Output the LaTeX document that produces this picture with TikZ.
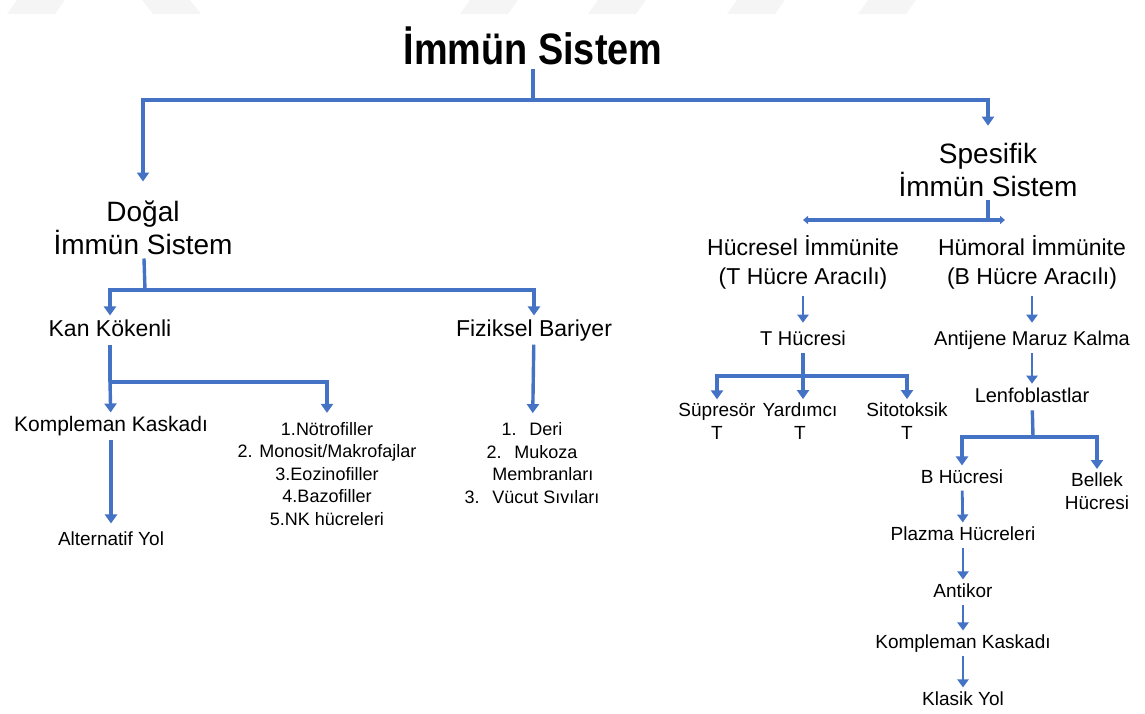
\documentclass[tikz,border=0pt]{standalone}
\usepackage{fontspec}
\setmainfont{Liberation Sans}
\newfontfamily\titlefont[FakeStretch=0.86]{Liberation Sans}
\usetikzlibrary{arrows.meta}
\definecolor{ablue}{RGB}{68,114,196}
\tikzset{
  line/.style={draw=ablue,line width=3.4pt},
  arr/.style={line,-{Triangle[width=12pt,length=9pt]}},
  sarr/.style={draw=ablue,line width=2.8pt,-{Triangle[width=11pt,length=8pt]}},
  capline/.style={line,{Triangle[width=8pt,length=5pt]}-{Triangle[width=8pt,length=5pt]}},
  big/.style={align=center,font=\fontsize{28}{33}\selectfont},
  mid/.style={align=center,font=\fontsize{23}{29}\selectfont},
  txt/.style={align=center,font=\fontsize{20}{24}\selectfont},
  sml/.style={align=center,font=\fontsize{19}{23}\selectfont},
  lst/.style={align=center,font=\fontsize{18}{22.5}\selectfont},
  midline/.style={font=\fontsize{23}{29}\selectfont,text height=17pt,text depth=5pt},
  kline/.style={font=\fontsize{21}{25}\selectfont,text height=15.5pt,text depth=4.5pt},
  txtline/.style={font=\fontsize{20}{24}\selectfont,text height=15pt,text depth=4.5pt},
  smlline/.style={font=\fontsize{19}{23}\selectfont,text height=14pt,text depth=4pt},
  wmark/.style={fill=gray!8,draw=none}
}
\begin{document}
\begin{tikzpicture}[x=1pt,y=-1pt]
\useasboundingbox (0,0) rectangle (1145,713);
% faint marks at the top edge
\foreach \a in {7,460,588,727,858}
  \path[wmark] (\a+10,0) -- (\a+58,0) -- (\a+48,14) -- (\a,14) -- cycle;
\path[wmark] (142,0) -- (190,0) -- (201,14) -- (153,14) -- cycle;

% texts
\node[font=\titlefont\fontsize{44}{50}\selectfont\bfseries] (immun) at (533,46) {İmmün Sistem};
\node[big] (dogal) at (143,228) {Doğal\\İmmün Sistem};
\node[big] (spesifik) at (988,170) {Spesifik\\İmmün Sistem};

\node[midline] (kan) at (110,330) {Kan Kökenli};
\node[midline] (fiziksel) at (534,330) {Fiziksel Bariyer};
\node[kline] (komp1) at (111,426) {Kompleman Kaskadı};
\node[smlline] (alternatif) at (111,540) {Alternatif Yol};
\node[lst] (hucreler) at (327,474) {1.Nötrofiller\\2. Monosit/Makrofajlar\\3.Eozinofiller\\4.Bazofiller\\5.NK hücreleri};
\node[lst] (bariyer) at (532,463) {1.\hspace{0.7em}Deri\\2.\hspace{0.7em}Mukoza\\\hspace{1.2em}Membranları\\3.\hspace{0.7em}Vücut Sıvıları};

\node[mid] (hucresel) at (803,262) {Hücresel İmmünite\\(T Hücre Aracılı)};
\node[mid] (humoral) at (1032,262) {Hümoral İmmünite\\(B Hücre Aracılı)};
\node[txtline] (thucre) at (803,340) {T Hücresi};
\node[txtline] (antijen) at (1032,340) {Antijene Maruz Kalma};
\node[txtline] (lenfo) at (1032,397) {Lenfoblastlar};
\node[sml] (supresor) at (717,421) {Süpresör\\T};
\node[sml] (yardimci) at (800,421) {Yardımcı\\T};
\node[sml] (sitotoksik) at (907,421) {Sitotoksik\\T};
\node[smlline] (bhucre) at (962,478) {B Hücresi};
\node[sml] (bellek) at (1097,491) {Bellek\\Hücresi};
\node[smlline] (plazma) at (963,535) {Plazma Hücreleri};
\node[smlline] (antikor) at (963,592) {Antikor};
\node[smlline] (komp2) at (963,643) {Kompleman Kaskadı};
\node[smlline] (klasik) at (963,700) {Klasik Yol};

% connectors
\coordinate (top) at (533,100);
\draw[line] (immun) -- (top);
\draw[arr,shorten >=16pt] (top) -| (dogal);
\draw[arr,shorten >=14pt] (top) -| (spesifik);

\coordinate (dj) at (145,290);
\draw[line] (dogal) -- (dj);
\draw[arr] (dj) -| (kan);
\draw[arr] (dj) -| (fiziksel);

\coordinate (kj) at (110,382);
\draw[line] (kan) -- (kj);
\draw[arr] (kj) -- (komp1);
\draw[arr,shorten >=6pt] (kj) -| (hucreler);
\draw[arr,shorten >=4pt] (komp1) -- (alternatif);
\draw[arr,shorten >=6pt] (fiziksel) -- (bariyer);

\coordinate (sj) at (988,220);
\coordinate (sl) at (803,220);
\coordinate (sr) at (1005,220);
\draw[line] (spesifik) -- (sj);
\draw[capline] (sl) -- (sr);
\draw[sarr,shorten <=4pt,shorten >=4pt] (hucresel) -- (thucre);
\draw[sarr,shorten <=4pt,shorten >=4pt] (humoral) -- (antijen);
\draw[sarr] (antijen) -- (lenfo);

\coordinate (tj) at (803,376);
\draw[line] (thucre) -- (tj);
\draw[arr] (tj) -| (supresor);
\draw[arr] (tj) -- (tj |- yardimci.north);
\draw[arr] (tj) -| (sitotoksik);

\coordinate (lj) at (1033,437);
\draw[line] (lenfo) -- (lj);
\draw[arr] (lj) -| (bhucre);
\draw[arr] (lj) -| (bellek);
\draw[sarr] (bhucre) -- (plazma);
\draw[sarr] (plazma) -- (antikor);
\draw[sarr] (antikor) -- (komp2);
\draw[sarr] (komp2) -- (klasik);
\end{tikzpicture}
\end{document}
